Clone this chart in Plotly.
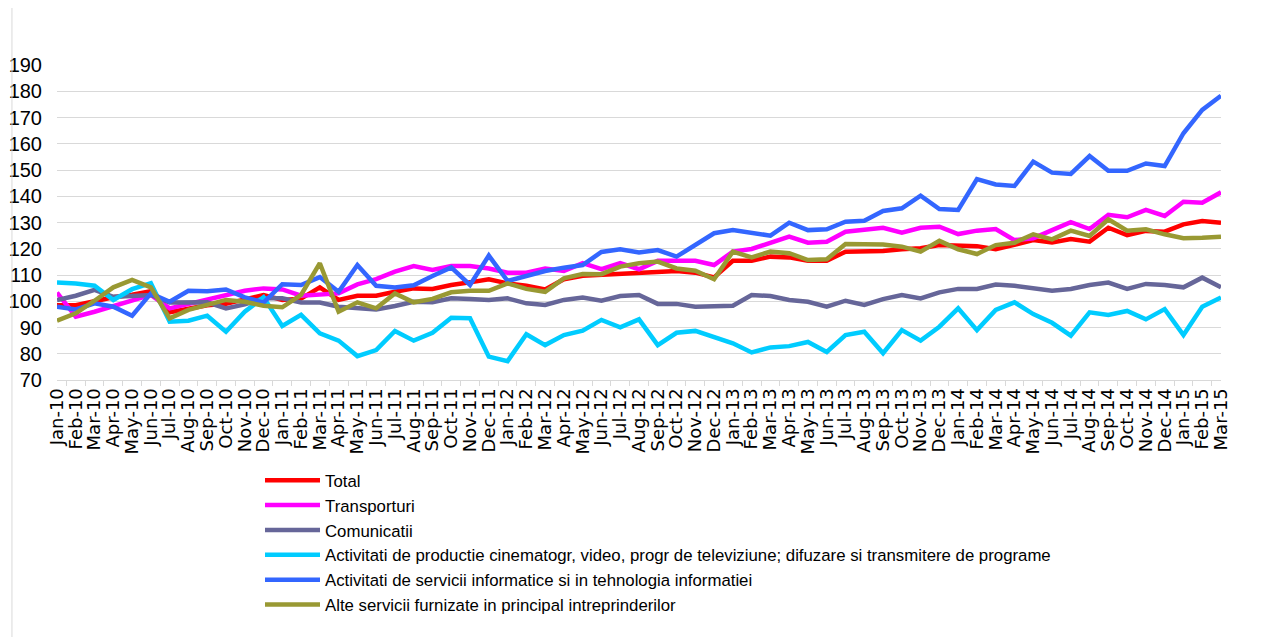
import plotly.graph_objects as go

months = ["Jan","Feb","Mar","Apr","May","Jun","Jul","Aug","Sep","Oct","Nov","Dec"]
categories = [f"{m}-{y:02d}" for y in range(10, 16) for m in months][:63]

total = [98.5, 98.5, 100.0, 101.5, 102.5, 103.8, 95.8, 97.3, 98.5, 99.0, 100.5, 102.4, 100.5, 101.0, 105.3,
         100.5, 102.1, 102.1, 103.6, 104.9, 104.7, 106.2, 107.2, 108.4, 106.8, 105.9, 104.5, 108.4, 109.7, 110.0,
         110.6, 110.9, 111.3, 111.5, 110.9, 109.1, 115.4, 115.4, 117.0, 116.7, 115.4, 115.4, 118.9, 118.9, 119.1,
         119.8, 120.2, 121.4, 121.0, 121.0, 119.8, 121.4, 123.3, 122.4, 123.7, 122.7, 128.0, 125.2, 126.8, 126.5,
         129.3, 130.6, 129.9]

transporturi = [103.3, 94.1, 96.0, 98.2, 100.5, 102.4, 97.3, 99.0, 100.5, 102.0, 104.0, 104.9, 104.5, 102.1, 102.6,
                103.0, 106.4, 108.4, 111.3, 113.4, 111.9, 113.4, 113.4, 112.5, 110.9, 110.9, 112.5, 111.5, 114.5, 112.2,
                114.5, 112.2, 115.4, 115.4, 115.4, 113.8, 118.9, 119.9, 122.4, 124.6, 122.3, 122.7, 126.5, 127.1, 128.0,
                126.1, 128.0, 128.4, 125.6, 126.9, 127.5, 123.3, 124.0, 127.1, 130.1, 127.5, 132.9, 132.0, 134.8, 132.5,
                137.9, 137.5, 141.5]

comunicatii = [100.5, 102.1, 104.3, 101.7, 102.0, 102.4, 99.5, 99.5, 99.6, 97.3, 98.8, 101.1, 101.1, 99.5, 99.5,
               97.9, 97.3, 96.9, 98.2, 99.8, 99.6, 101.1, 100.9, 100.5, 101.1, 99.2, 98.6, 100.5, 101.4, 100.2,
               102.0, 102.4, 99.0, 99.0, 97.9, 97.9, 98.3, 102.4, 102.0, 100.5, 99.8, 97.9, 100.2, 98.6, 100.8,
               102.4, 101.1, 103.4, 104.7, 104.7, 106.4, 105.9, 104.9, 104.0, 104.7, 106.2, 107.1, 104.7, 106.6, 106.2,
               105.3, 109.0, 105.3]

cinema = [107.1, 106.8, 105.9, 100.5, 104.6, 106.9, 92.2, 92.6, 94.5, 88.4, 96.0, 101.5, 90.6, 94.8, 87.8,
          85.0, 79.1, 81.4, 88.7, 85.0, 88.0, 93.7, 93.5, 78.9, 77.2, 87.4, 83.3, 87.1, 88.8, 92.9,
          90.1, 93.1, 83.3, 88.0, 88.7, 86.5, 84.0, 80.5, 82.4, 82.9, 84.5, 80.7, 87.1, 88.4, 80.2,
          89.0, 85.0, 90.3, 97.3, 89.0, 96.7, 99.6, 95.1, 91.8, 86.9, 95.8, 94.8, 96.3, 93.1, 97.0,
          87.1, 97.9, 101.4]

informatice = [97.9, 96.9, 99.2, 97.9, 94.5, 103.0, 99.8, 104.0, 103.8, 104.5, 101.5, 99.5, 106.5, 106.2, 109.2,
               103.6, 113.8, 105.9, 105.2, 106.1, 109.6, 112.9, 106.2, 117.4, 107.7, 109.6, 111.5, 112.8, 113.8, 118.8,
               119.8, 118.6, 119.5, 117.0, 121.4, 125.9, 127.1, 126.1, 125.0, 129.9, 127.1, 127.4, 130.3, 130.7, 134.4,
               135.4, 140.2, 135.1, 134.8, 146.5, 144.5, 143.9, 153.2, 149.0, 148.5, 155.3, 149.7, 149.7, 152.5, 151.5,
               164.0, 172.9, 178.3]

alte = [92.6, 95.4, 100.2, 105.3, 108.1, 105.3, 93.5, 96.7, 98.6, 100.5, 99.8, 98.3, 97.7, 102.4, 114.5,
        96.0, 99.6, 97.3, 103.0, 99.6, 100.9, 103.4, 104.0, 104.0, 106.8, 104.7, 103.6, 108.7, 110.4, 110.3,
        113.2, 114.5, 115.1, 112.5, 111.6, 108.4, 118.9, 116.7, 118.9, 118.3, 115.7, 116.0, 121.8, 121.6, 121.6,
        120.8, 118.9, 123.0, 119.8, 118.0, 121.4, 122.3, 125.5, 123.6, 126.9, 124.9, 131.2, 126.9, 127.4, 125.5,
        124.0, 124.2, 124.6]

series_names = [
    "Total",
    "Transporturi",
    "Comunicatii",
    "Activitati de productie cinematogr, video, progr de televiziune; difuzare si transmitere de programe",
    "Activitati de servicii informatice si in tehnologia informatiei",
    "Alte servicii furnizate in principal intreprinderilor",
]
series_values = [total, transporturi, comunicatii, cinema, informatice, alte]
series_colors = ["#FF0000", "#FF00FF", "#666699", "#00CCFF", "#3366FF", "#999933"]

y_ticks = list(range(70, 200, 10))

fig = go.Figure()
for name, vals, col in zip(series_names, series_values, series_colors):
    fig.add_trace(go.Scatter(
        x=categories, y=vals, mode="lines", name=name,
        line=dict(color=col, width=4.5),
    ))

fig.update_layout(
    width=1284, height=637,
    margin=dict(l=49, r=71, t=57, b=265),
    paper_bgcolor="white", plot_bgcolor="white",
    showlegend=True,
    legend=dict(
        orientation="v", x=0.1744, xanchor="left", y=-0.263, yanchor="top",
        font=dict(family="Liberation Sans, Arial, sans-serif", size=16.8, color="#000000"),
        tracegroupgap=0, itemwidth=55, bgcolor="rgba(0,0,0,0)",
    ),
    shapes=[dict(type="line", xref="paper", yref="paper", x0=-0.0387, x1=-0.0387, y0=1.2, y1=-0.85,
                 line=dict(color="#D9D9D9", width=1))],
)

fig.update_xaxes(
    type="category", tickmode="array", tickvals=categories, ticktext=categories,
    tickangle=-90, tickson="boundaries",
    ticks="outside", ticklen=5, tickcolor="#D9D9D9",
    showline=True, linecolor="#D9D9D9", linewidth=1,
    showgrid=False, automargin=False,
    tickfont=dict(family="DejaVu Sans, sans-serif", size=18, color="#000000"),
)
fig.update_yaxes(
    range=[70, 190], tickvals=y_ticks, ticks="",
    showgrid=True, gridcolor="#D9D9D9", gridwidth=1,
    zeroline=False, showline=False, automargin=False,
    ticklabelstandoff=14,
    tickfont=dict(family="Liberation Sans, Arial, sans-serif", size=20, color="#000000"),
)

fig.write_html("out.html")
